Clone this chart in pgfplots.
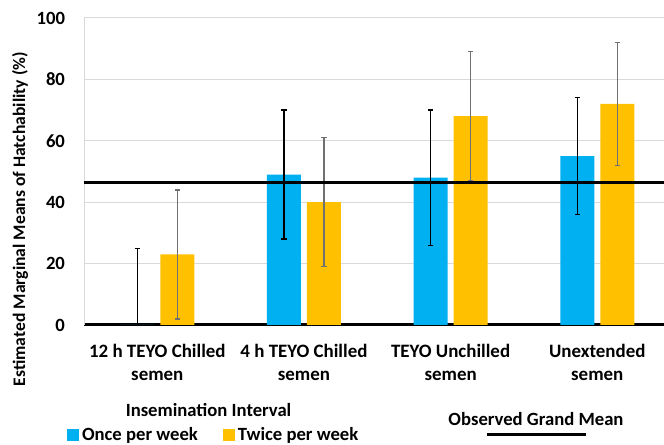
\documentclass[border=0pt]{standalone}
\usepackage{pgfplots}
\pgfplotsset{compat=1.18}
\usepackage{fontspec}
\setmainfont{Carlito}
\definecolor{once}{HTML}{00B0F0}
\definecolor{twice}{HTML}{FFC000}
\definecolor{gridc}{HTML}{D9D9D9}
\definecolor{errg}{HTML}{707070}
\newcommand{\tickfont}{\fontsize{14}{16}\selectfont\bfseries}
\newcommand{\catfont}{\fontsize{14.2}{17}\selectfont\bfseries}
\newcommand{\labfont}{\fontsize{13.2}{15}\selectfont\bfseries}
\newcommand{\legfont}{\fontsize{14}{16}\selectfont\bfseries}
\pgfplotstableread{
x y e
0 0 25
1 49 21
2 48 22
3 55 19
}\oncedata
\pgfplotstableread{
x y e
0 23 21
1 40 21
2 68 21
3 72 20
}\twicedata
\begin{document}
\begin{tikzpicture}
\useasboundingbox (0,0) rectangle (498pt,333.75pt);
\begin{axis}[
  at={(63pt,90pt)}, anchor=south west, scale only axis,
  width=435pt, height=230.25pt,
  ybar=4.5pt, bar width=25.5pt,
  xmin=-0.5, xmax=3.455, ymin=0, ymax=100,
  axis lines*=left,
  x axis line style={black, line width=2.25pt},
  y axis line style={gridc, line width=0.75pt},
  major tick length=0pt,
  ytick={0,20,...,100},
  ymajorgrids, grid style={gridc, line width=0.75pt},
  xtick={0,1,2,3},
  xticklabels={{12 h TEYO Chilled\\semen},{4 h TEYO Chilled\\semen},{TEYO Unchilled\\semen},{Unextended\\semen}},
  xticklabel style={align=center, font=\catfont, yshift=-11pt},
  yticklabel style={font=\tickfont, xshift=-10.75pt},
  /pgf/number format/assume math mode=true,
  ylabel={Estimated Marginal Means of Hatchability (\%)},
  ylabel style={font=\labfont, at={(rel axis cs:-0.11,0.345)}, anchor=center},
  legend columns=2,
  legend style={at={(rel axis cs:-0.036,-0.358)}, anchor=west, draw=none, fill=none, font=\legfont,
    /tikz/every even column/.append style={column sep=17pt}},
  legend image code/.code={\fill[#1] (0pt,-4.5pt) rectangle (9pt,4.5pt);},
]
\addplot[fill=once, draw=none,
  error bars/.cd, y dir=both, y explicit,
  error bar style={black, line width=1pt},
  error mark options={rotate=90, mark size=2pt, black, line width=1pt}]
  table[x=x, y=y, y error=e] {\oncedata};
\addlegendentry{Once per week}
\addplot[fill=twice, draw=none,
  error bars/.cd, y dir=both, y explicit,
  error bar style={errg, line width=1pt},
  error mark options={rotate=90, mark size=2pt, errg, line width=1pt}]
  table[x=x, y=y, y error=e] {\twicedata};
\addlegendentry{Twice per week}
\addplot[sharp plot, black, line width=2.25pt, forget plot] coordinates {(-0.5,46.3) (3.455,46.3)};
\end{axis}
\node[font=\legfont] at (156.4pt,26.25pt) {Insemination Interval};
\node[font=\legfont] at (402pt,19.5pt) {Observed Grand Mean};
\draw[black, line width=2.25pt] (365.25pt,7.5pt) -- (439.5pt,7.5pt);
\end{tikzpicture}
\end{document}
